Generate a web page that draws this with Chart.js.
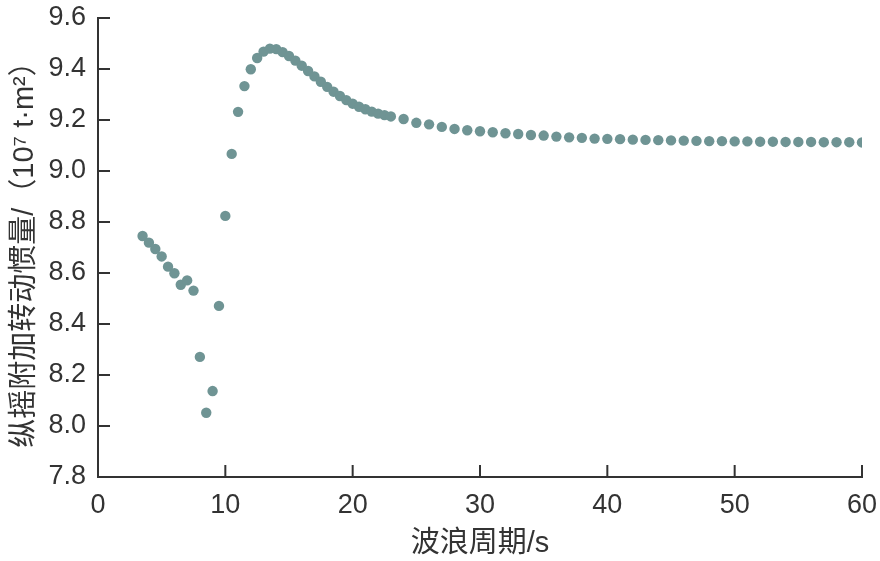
<!DOCTYPE html>
<html>
<head>
<meta charset="utf-8">
<script src="https://cdn.jsdelivr.net/npm/chart.js@4/dist/chart.umd.min.js"></script>
<style>
  html, body { margin: 0; padding: 0; background: #fff; }
  #myChart { display: block; }
</style>
</head>
<body>
<canvas id="myChart" width="880" height="561"></canvas>
<script>
// 波浪周期 (s)
const periods = [
    3.5, 4, 4.5, 5, 5.5, 6, 6.5, 7, 7.5, 8, 8.5, 9, 9.5, 10,
    10.5, 11, 11.5, 12, 12.5, 13, 13.5, 14, 14.5, 15, 15.5, 16, 16.5, 17,
    17.5, 18, 18.5, 19, 19.5, 20, 20.5, 21, 21.5, 22, 22.5, 23,
    24, 25, 26, 27, 28, 29, 30, 31, 32, 33, 34, 35, 36, 37, 38, 39, 40,
    41, 42, 43, 44, 45, 46, 47, 48, 49, 50, 51, 52, 53, 54, 55, 56, 57, 58, 59, 60
];
// 纵摇附加转动惯量 (10^7 t·m^2)
const inertia = [
    8.745, 8.719, 8.694, 8.665, 8.625, 8.599, 8.554, 8.571, 8.531, 8.271, 8.052, 8.137, 8.471, 8.824,
    9.067, 9.232, 9.333, 9.399, 9.443, 9.468, 9.480, 9.478, 9.466, 9.451, 9.433, 9.413, 9.392, 9.371,
    9.350, 9.330, 9.311, 9.294, 9.278, 9.264, 9.252, 9.242, 9.233, 9.225, 9.219, 9.214,
    9.204, 9.189, 9.183, 9.173, 9.165, 9.160, 9.156, 9.152, 9.148, 9.145, 9.141, 9.139, 9.135, 9.132, 9.130, 9.127, 9.126,
    9.125, 9.123, 9.122, 9.121, 9.120, 9.119, 9.118, 9.117, 9.117, 9.116, 9.116, 9.115, 9.115, 9.114, 9.114, 9.114, 9.113, 9.113, 9.113, 9.112
];
const xTicks = [0, 10, 20, 30, 40, 50, 60];
const yTicks = [7.8, 8.0, 8.2, 8.4, 8.6, 8.8, 9.0, 9.2, 9.4, 9.6];

const axisColor = '#333';
const fontFamily = '"Liberation Sans", Arial, "Noto Sans CJK SC", sans-serif';

// ticks drawn inward, like the original figure
const inwardTicks = {
    id: 'inwardTicks',
    afterDraw(chart) {
        const ctx = chart.ctx;
        const area = chart.chartArea;
        const xs = chart.scales.x;
        const ys = chart.scales.y;
        ctx.save();
        ctx.strokeStyle = axisColor;
        ctx.lineWidth = 2;
        ctx.beginPath();
        xTicks.forEach(v => {
            if (v === xs.min) return;
            const px = xs.getPixelForValue(v);
            ctx.moveTo(px, area.bottom);
            ctx.lineTo(px, area.bottom - 12);
        });
        yTicks.forEach(v => {
            if (v === ys.min) return;
            const py = ys.getPixelForValue(v);
            ctx.moveTo(area.left, py);
            ctx.lineTo(area.left + 12, py);
        });
        ctx.stroke();
        ctx.restore();
    }
};

const points = periods.map((p, i) => ({ x: p, y: inertia[i] }));

const ctx = document.getElementById('myChart').getContext('2d');
new Chart(ctx, {
    type: 'scatter',
    data: {
        datasets: [{
            data: points,
            backgroundColor: '#6f9494',
            borderColor: '#6f9494',
            pointRadius: 5.2,
            pointBorderWidth: 0
        }]
    },
    options: {
        responsive: false,
        animation: false,
        devicePixelRatio: 1,
        layout: { padding: { top: 18, right: 18, left: 0, bottom: 0 } },
        plugins: { legend: { display: false }, tooltip: { enabled: false } },
        scales: {
            x: {
                type: 'linear',
                min: 0,
                max: 60,
                afterBuildTicks: s => { s.ticks = xTicks.map(v => ({ value: v })); },
                afterFit: s => { s.height = 84; s.paddingLeft = 0; s.paddingRight = 0; },
                grid: { display: false },
                border: { display: true, color: axisColor, width: 2 },
                ticks: {
                    color: '#333',
                    padding: 4,
                    font: { family: fontFamily, size: 27 },
                    callback: v => String(v)
                },
                title: {
                    display: true,
                    text: '波浪周期/s',
                    color: '#333',
                    padding: { top: 0, bottom: 0 },
                    font: { family: fontFamily, size: 29 }
                }
            },
            y: {
                type: 'linear',
                min: 7.8,
                max: 9.6,
                afterBuildTicks: s => { s.ticks = yTicks.map(v => ({ value: v })); },
                afterFit: s => { s.width = 98; s.paddingTop = 0; s.paddingBottom = 0; },
                grid: { display: false },
                border: { display: true, color: axisColor, width: 2 },
                ticks: {
                    color: '#333',
                    padding: 4,
                    font: { family: fontFamily, size: 27 },
                    callback: v => v.toFixed(1)
                },
                title: {
                    display: true,
                    text: '纵摇附加转动惯量/（10⁷ t·m²）',
                    color: '#333',
                    padding: { top: 8, bottom: 0 },
                    font: { family: fontFamily, size: 29 }
                }
            }
        }
    },
    plugins: [inwardTicks]
});
</script>
</body>
</html>
